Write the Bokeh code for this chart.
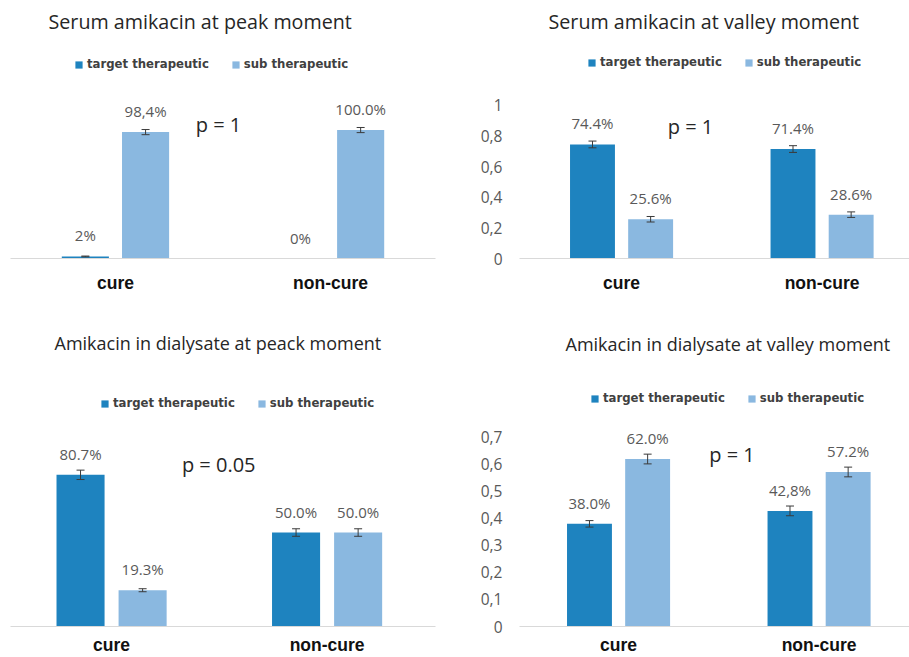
from bokeh.plotting import figure
from bokeh.models import (Range1d, ColumnDataSource, LabelSet, Label, Whisker, TeeHead,
                          FixedTicker, Legend, LegendItem)
from bokeh.core.properties import value
from bokeh.transform import dodge
from bokeh.layouts import column, row
from bokeh.embed import file_html
from bokeh.resources import INLINE

categories = ["cure", "non-cure"]
series_names = ["target therapeutic", "sub therapeutic"]

# Serum amikacin at peak moment
title_1 = "Serum amikacin at peak moment"
target_1 = [0.016, 0.0]
sub_1 = [0.984, 1.0]
target_lab_1 = ["2%", "0%"]
sub_lab_1 = ["98,4%", "100.0%"]
target_err_1 = [0.003, float("nan")]
sub_err_1 = [0.02, 0.02]
pval_1 = "p = 1"

# Serum amikacin at valley moment
title_2 = "Serum amikacin at valley moment"
target_2 = [0.744, 0.714]
sub_2 = [0.256, 0.286]
target_lab_2 = ["74.4%", "71.4%"]
sub_lab_2 = ["25.6%", "28.6%"]
target_err_2 = [0.022, 0.022]
sub_err_2 = [0.018, 0.018]
pval_2 = "p = 1"
yticks_2 = [0, 0.2, 0.4, 0.6, 0.8, 1]
ytick_labels_2 = ["0", "0,2", "0,4", "0,6", "0,8", "1"]

# Amikacin in dialysate at peack moment
title_3 = "Amikacin in dialysate at peack moment"
target_3 = [0.807, 0.5]
sub_3 = [0.193, 0.5]
target_lab_3 = ["80.7%", "50.0%"]
sub_lab_3 = ["19.3%", "50.0%"]
target_err_3 = [0.025, 0.02]
sub_err_3 = [0.008, 0.02]
pval_3 = "p = 0.05"

# Amikacin in dialysate at valley moment
title_4 = "Amikacin in dialysate at valley moment"
target_4 = [0.38, 0.428]
sub_4 = [0.62, 0.572]
target_lab_4 = ["38.0%", "42,8%"]
sub_lab_4 = ["62.0%", "57.2%"]
target_err_4 = [0.012, 0.018]
sub_err_4 = [0.018, 0.018]
pval_4 = "p = 1"
yticks_4 = [0, 0.1, 0.2, 0.3, 0.4, 0.5, 0.6, 0.7]
ytick_labels_4 = ["0", "0,1", "0,2", "0,3", "0,4", "0,5", "0,6", "0,7"]

DARK = "#1e83bf"
LIGHT = "#8ab8e0"


def make_panel(title, tgt, sub, tgt_lab, sub_lab, tgt_err, sub_err, pval,
               width, height, mb_left, mb_right, mb_top, mb_bottom,
               x_start, x_end, y_end, off, bar_w, title_offset, title_size, title_standoff,
               legend_xy, pval_xy, cat_standoff, yticks=None, ylabels=None):
    xi = list(range(len(categories)))
    src_t = ColumnDataSource(dict(
        xi=xi, v=tgt, lab=tgt_lab,
        up=[v + e for v, e in zip(tgt, tgt_err)],
        lo=[v - e for v, e in zip(tgt, tgt_err)]))
    src_s = ColumnDataSource(dict(
        xi=xi, v=sub, lab=sub_lab,
        up=[v + e for v, e in zip(sub, sub_err)],
        lo=[v - e for v, e in zip(sub, sub_err)]))

    p = figure(width=width, height=height, output_backend="svg", toolbar_location=None,
               x_range=Range1d(x_start, x_end), y_range=Range1d(0, y_end),
               min_border_left=mb_left, min_border_right=mb_right,
               min_border_top=mb_top, min_border_bottom=mb_bottom,
               y_axis_location="left" if yticks is not None else None,
               title=title)
    p.title.text_font = "Open Sans"
    p.title.text_font_size = title_size
    p.title.text_font_style = "normal"
    p.title.text_color = "#262626"
    p.title.align = "left"
    p.title.offset = title_offset
    p.title.standoff = title_standoff
    p.outline_line_color = None
    p.xgrid.visible = False
    p.ygrid.visible = False
    p.background_fill_color = "white"
    p.border_fill_color = "white"

    r_t = p.vbar(x=dodge("xi", -off), top="v", width=bar_w, source=src_t,
                 fill_color=DARK, line_color=None)
    r_s = p.vbar(x=dodge("xi", off), top="v", width=bar_w, source=src_s,
                 fill_color=LIGHT, line_color=None)

    for src, o in ((src_t, -off), (src_s, off)):
        w = Whisker(source=src, base=dodge("xi", o), upper="up", lower="lo",
                    line_color="#3a3a3a", line_width=1, level="annotation",
                    upper_head=TeeHead(size=8, line_color="#3a3a3a", line_width=1),
                    lower_head=TeeHead(size=8, line_color="#3a3a3a", line_width=1))
        p.add_layout(w)
        ls = LabelSet(source=src, x=dodge("xi", o), y="v", text="lab",
                      text_align="center", text_baseline="middle", y_offset=21,
                      text_font=value("Open Sans"), text_font_size=value("15px"),
                      text_color="#595959")
        p.add_layout(ls)

    p.add_layout(Label(x=pval_xy[0], y=pval_xy[1], text=pval, text_align="center",
                       text_baseline="middle", text_font="Open Sans",
                       text_font_size="20px", text_color="#262626"))

    legend = Legend(items=[LegendItem(label=series_names[0], renderers=[r_t]),
                           LegendItem(label=series_names[1], renderers=[r_s])],
                    location=legend_xy, orientation="horizontal",
                    glyph_width=9, glyph_height=9, label_height=14, label_standoff=4,
                    spacing=22, padding=0, margin=0,
                    label_text_font="DejaVu Sans", label_text_font_style="bold",
                    label_text_font_size="11.7px", label_text_color="#404040",
                    background_fill_alpha=0, border_line_alpha=0)
    p.add_layout(legend)

    ax = p.xaxis[0]
    ax.ticker = FixedTicker(ticks=xi)
    ax.major_label_overrides = {i: c for i, c in zip(xi, categories)}
    ax.axis_line_color = "#d9d9d9"
    ax.axis_line_width = 1
    ax.major_tick_line_color = None
    ax.minor_tick_line_color = None
    ax.major_tick_out = 0
    ax.major_label_standoff = cat_standoff
    ax.major_label_text_font = "Liberation Sans"
    ax.major_label_text_font_style = "bold"
    ax.major_label_text_font_size = "17.5px"
    ax.major_label_text_color = "#111111"

    if yticks is not None:
        ay = p.yaxis[0]
        ay.ticker = FixedTicker(ticks=yticks)
        ay.major_label_overrides = {t: s for t, s in zip(yticks, ylabels)}
        ay.axis_line_color = None
        ay.major_tick_line_color = None
        ay.minor_tick_line_color = None
        ay.major_tick_out = 0
        ay.major_label_standoff = 17
        ay.major_label_text_font = "Open Sans"
        ay.major_label_text_font_size = "15.5px"
        ay.major_label_text_color = "#595959"
    return p


p1 = make_panel(title_1, target_1, sub_1, target_lab_1, sub_lab_1, target_err_1, sub_err_1, pval_1,
                width=450, height=318, mb_left=10, mb_right=15, mb_top=38, mb_bottom=60,
                x_start=-0.488, x_end=1.488, y_end=1.705, off=0.14, bar_w=0.219,
                title_offset=38, title_size="19.7px", title_standoff=10, legend_xy=(64, 187),
                pval_xy=(0.479, 1.047), cat_standoff=14)
p2 = make_panel(title_2, target_2, sub_2, target_lab_2, sub_lab_2, target_err_2, sub_err_2, pval_2,
                width=459, height=318, mb_left=69, mb_right=0, mb_top=38, mb_bottom=60,
                x_start=-0.509, x_end=1.436, y_end=1.4286, off=0.145, bar_w=0.224,
                title_offset=29, title_size="19.7px", title_standoff=10, legend_xy=(68, 189),
                pval_xy=(0.344, 0.860), cat_standoff=14,
                yticks=yticks_2, ylabels=ytick_labels_2)
p3 = make_panel(title_3, target_3, sub_3, target_lab_3, sub_lab_3, target_err_3, sub_err_3, pval_3,
                width=450, height=339, mb_left=10, mb_right=15, mb_top=43, mb_bottom=31,
                x_start=-0.469, x_end=1.503, y_end=1.41, off=0.144, bar_w=0.223,
                title_offset=44, title_size="18px", title_standoff=14, legend_xy=(90, 216),
                pval_xy=(0.497, 0.862), cat_standoff=8)
p4 = make_panel(title_4, target_4, sub_4, target_lab_4, sub_lab_4, target_err_4, sub_err_4, pval_4,
                width=459, height=339, mb_left=69, mb_right=0, mb_top=43, mb_bottom=31,
                x_start=-0.494, x_end=1.451, y_end=0.981, off=0.145, bar_w=0.224,
                title_offset=46, title_size="18px", title_standoff=11, legend_xy=(71, 221),
                pval_xy=(0.566, 0.637), cat_standoff=8,
                yticks=yticks_4, ylabels=ytick_labels_4)

layout = column(row(p1, p2, spacing=0), row(p3, p4, spacing=0), spacing=0)
open("out.html", "w").write(file_html(layout, INLINE))
